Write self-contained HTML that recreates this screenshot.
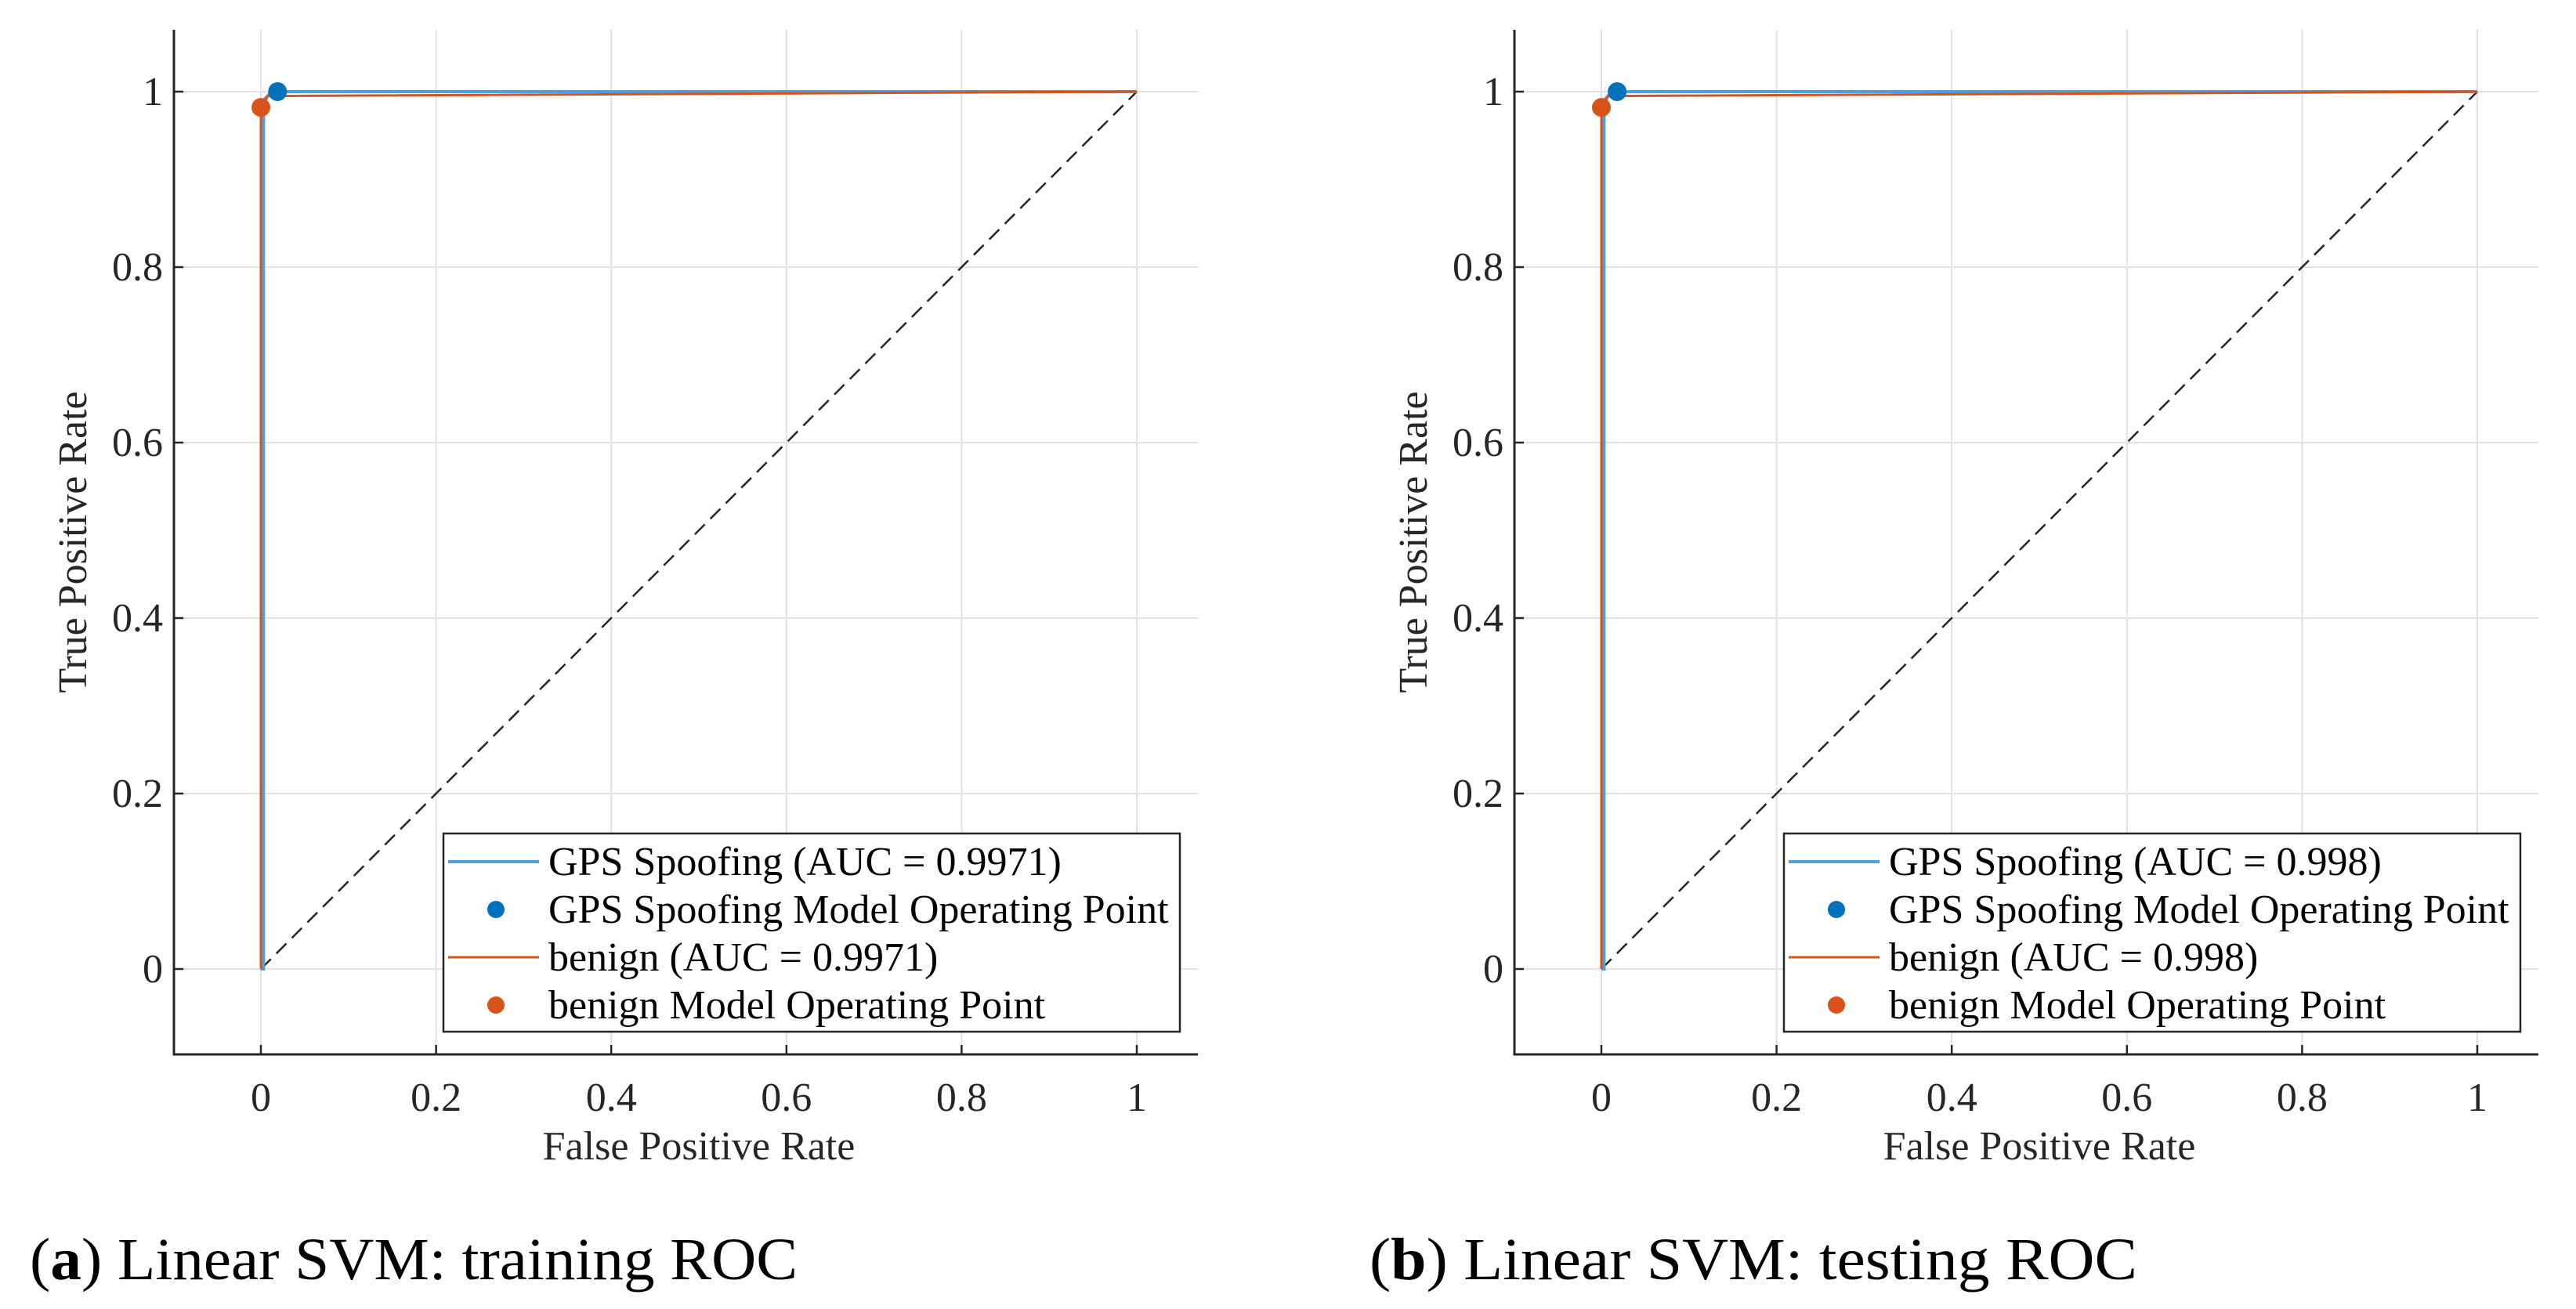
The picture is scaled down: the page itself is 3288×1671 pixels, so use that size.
<!DOCTYPE html>
<html><head><meta charset="utf-8"><style>
html,body{margin:0;padding:0;background:#fff;}
svg{display:block;font-family:"Liberation Serif",serif;}
</style></head><body>
<svg id="fig" width="3288" height="1671" viewBox="0 0 3288 1671" xmlns="http://www.w3.org/2000/svg"></svg>
<script>
// ---- data ----
const xTicks = [0, 0.2, 0.4, 0.6, 0.8, 1];
const yTicks = [0, 0.2, 0.4, 0.6, 0.8, 1];
const xTickLabels = ["0", "0.2", "0.4", "0.6", "0.8", "1"];
const yTickLabels = ["0", "0.2", "0.4", "0.6", "0.8", "1"];
const trainGpsFpr = [0, 0.003, 0.003, 0.012, 1];
const trainGpsTpr = [0, 0, 0.99, 1.0, 1];
const trainBenFpr = [0, 0, 0.008, 1];
const trainBenTpr = [0, 0.982, 0.995, 1];
const trainGpsOp = [0.019, 1.0];
const trainBenOp = [0.0, 0.982];
const testGpsFpr = [0, 0.003, 0.003, 0.012, 1];
const testGpsTpr = [0, 0, 0.99, 1.0, 1];
const testBenFpr = [0, 0, 0.008, 1];
const testBenTpr = [0, 0.982, 0.995, 1];
const testGpsOp = [0.018, 1.0];
const testBenOp = [0.0, 0.982];
const trainAuc = "0.9971";
const testAuc = "0.998";

const NS = "http://www.w3.org/2000/svg";
const svg = document.getElementById('fig');
function mk(tag, attrs, parent, text){
  const e = document.createElementNS(NS, tag);
  for (const k in attrs) e.setAttribute(k, attrs[k]);
  if (text !== undefined) e.textContent = text;
  (parent || svg).appendChild(e);
  return e;
}
const BLUE_L = "#4a9fe0", BLUE = "#0072BD", ORANGE = "#D95319";
const FS = 52;

function panel(p){
  const left = p.left, right = p.left + 1307, top = 38, bottom = 1346;
  const x0 = p.left + 111, xs = 1118, y0 = 1237, ys = 1120;
  const X = v => x0 + v * xs;
  const Y = v => y0 - v * ys;
  const g = mk('g', {});
  
  
  xTicks.forEach((t, i) => {
    const l = mk('line', {x1: X(t), x2: X(t), y1: top, y2: bottom, stroke: "#e1e1e1", "stroke-width": 2}, g);
    
    
    const tk = mk('line', {x1: X(t), x2: X(t), y1: bottom, y2: bottom - 12, stroke: "#262626", "stroke-width": 2.5}, g);
    
    
    const lb = mk('text', {x: X(t), y: 1418, "text-anchor": "middle", "font-size": FS, fill: "#262626"}, g, xTickLabels[i]);
    
    
  });
  yTicks.forEach((t, i) => {
    const l = mk('line', {x1: left, x2: right, y1: Y(t), y2: Y(t), stroke: "#e1e1e1", "stroke-width": 2}, g);
    
    
    const tk = mk('line', {x1: left, x2: left + 12, y1: Y(t), y2: Y(t), stroke: "#262626", "stroke-width": 2.5}, g);
    
    
    const lb = mk('text', {x: left - 14, y: Y(t) + 17, "text-anchor": "end", "font-size": FS, fill: "#262626"}, g, yTickLabels[i]);
    
    
  });
  const ax = mk('path', {d: `M${left},${top} L${left},${bottom} L${right},${bottom}`, fill: "none", stroke: "#262626", "stroke-width": 3}, g);
  
  
  const dg = mk('line', {x1: X(0), y1: Y(0), x2: X(1), y2: Y(1), stroke: "#262626", "stroke-width": 2.5, "stroke-dasharray": "18,10"}, g);
  
  
  const pts = (xs_, ys_) => xs_.map((v, i) => X(v) + "," + Y(ys_[i])).join(" ");
  const c1 = mk('polyline', {points: pts(p.gf, p.gt), fill: "none", stroke: BLUE_L, "stroke-width": 4}, g);
  
  
  const c2 = mk('polyline', {points: pts(p.bf, p.bt), fill: "none", stroke: ORANGE, "stroke-width": 3}, g);
  
  
  const m1 = mk('circle', {cx: X(p.gop[0]), cy: Y(p.gop[1]), r: 12, fill: BLUE}, g);
  
  
  const m2 = mk('circle', {cx: X(p.bop[0]), cy: Y(p.bop[1]), r: 12, fill: ORANGE}, g);
  
  
  const xl = mk('text', {x: x0 + 0.5 * xs, y: 1480, "text-anchor": "middle", "font-size": FS, fill: "#262626"}, g, "False Positive Rate");
  
  
  const yx = left - 112, yy = 692;
  const yl = mk('text', {x: yx, y: yy, "text-anchor": "middle", "font-size": FS, fill: "#262626", transform: `rotate(-90 ${yx} ${yy})`}, g, "True Positive Rate");
  
  
  const lx = p.left + 344, lw = 940, ly = 1064, lh = 253;
  const lg = mk('g', {}, g);
  
  
  const box = mk('rect', {x: lx, y: ly, width: lw, height: lh, fill: "#fff", stroke: "#262626", "stroke-width": 2.5}, lg);
  
  
  const rows = [
    {t: `GPS Spoofing (AUC = ${p.auc})`, kind: 'line', c: BLUE_L, w: 4},
    {t: "GPS Spoofing Model Operating Point", kind: 'dot', c: BLUE},
    {t: `benign (AUC = ${p.auc})`, kind: 'line', c: ORANGE, w: 3},
    {t: "benign Model Operating Point", kind: 'dot', c: ORANGE}
  ];
  rows.forEach((r, i) => {
    const cy = 1100 + i * 61;
    if (r.kind === 'line') {
      const s = mk('line', {x1: lx + 6, x2: lx + 122, y1: cy, y2: cy, stroke: r.c, "stroke-width": r.w}, lg);
      
      
    } else {
      const s = mk('circle', {cx: lx + 67, cy: cy, r: 11, fill: r.c}, lg);
      
      
    }
    const t = mk('text', {x: lx + 134, y: cy + 17, "font-size": FS, fill: "#000"}, lg, r.t);
    
    
  });
  const cap = mk('text', {x: p.capX, y: 1633, "font-size": 76, fill: "#000", textLength: 980, lengthAdjust: "spacingAndGlyphs"}, g);
  
  
  mk('tspan', {}, cap, "(");
  mk('tspan', {"font-weight": "bold"}, cap, p.letter);
  mk('tspan', {}, cap, ") " + p.caption);
}

panel({name: 'training-roc-panel', left: 222, gf: trainGpsFpr, gt: trainGpsTpr, bf: trainBenFpr, bt: trainBenTpr,
  gop: trainGpsOp, bop: trainBenOp, auc: trainAuc, capX: 38, letter: "a", caption: "Linear SVM: training ROC"});
panel({name: 'testing-roc-panel', left: 1933, gf: testGpsFpr, gt: testGpsTpr, bf: testBenFpr, bt: testBenTpr,
  gop: testGpsOp, bop: testBenOp, auc: testAuc, capX: 1748, letter: "b", caption: "Linear SVM: testing ROC"});
</script>
</body></html>
